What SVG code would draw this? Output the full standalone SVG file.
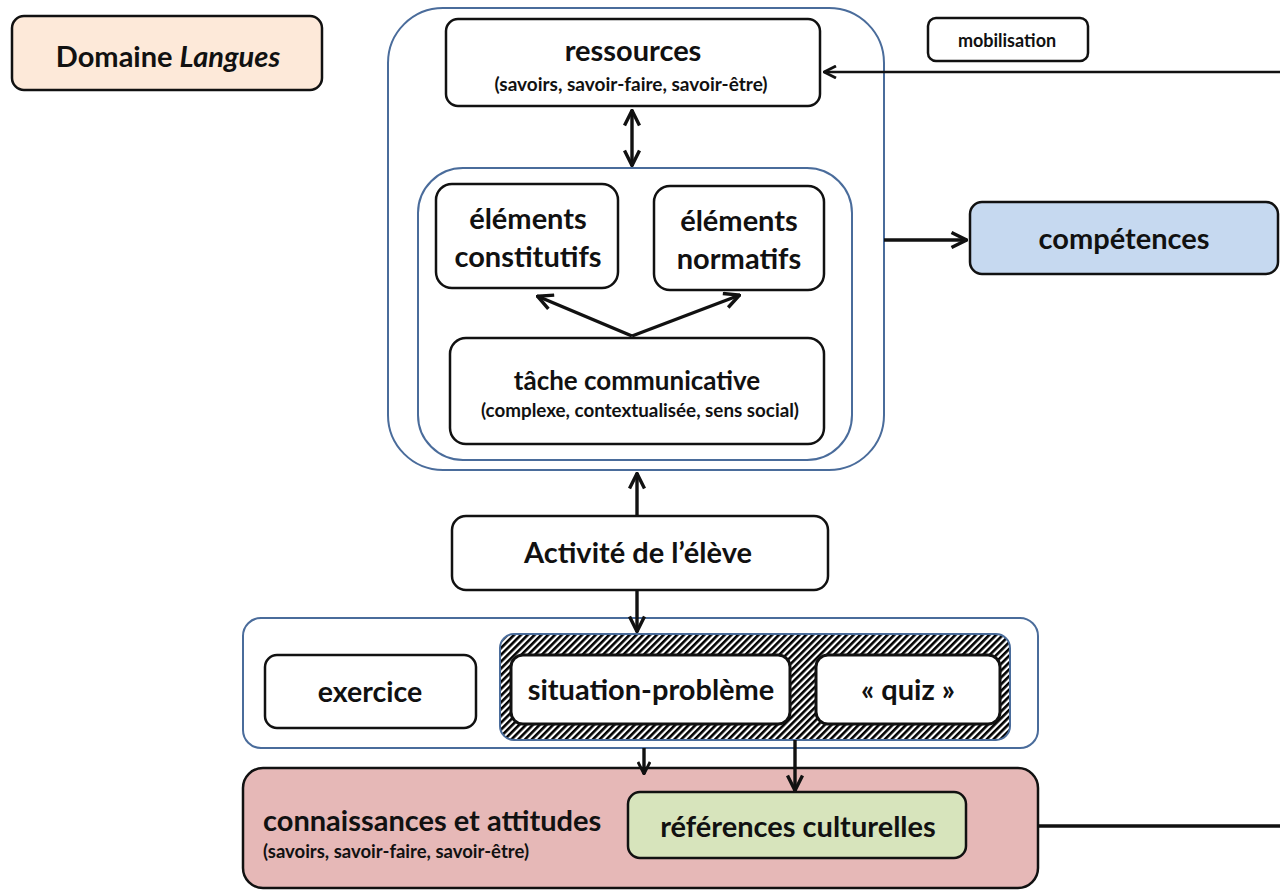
<svg xmlns="http://www.w3.org/2000/svg" width="1280" height="891" viewBox="0 0 1280 891">
<defs>
<style>
.t{font-family:Lato,"Open Sans","Liberation Sans",sans-serif;font-weight:700;fill:#111;text-anchor:middle}
.box{fill:#fff;stroke:#111;stroke-width:2.5}
.blue{fill:none;stroke:#4a6c9b;stroke-width:2}
.ln{stroke:#111;stroke-width:3.4;fill:none}
.thin{stroke:#111;stroke-width:2.4;fill:none}
</style>
<marker id="ah" viewBox="0 0 14 14" refX="13" refY="7" markerWidth="14" markerHeight="14" markerUnits="userSpaceOnUse" orient="auto-start-reverse">
<path d="M1,1 L13,7 L1,13" fill="none" stroke="#111" stroke-width="2.8"/>
</marker>
<marker id="ah2" viewBox="0 0 18 18" refX="17" refY="9" markerWidth="18" markerHeight="18" markerUnits="userSpaceOnUse" orient="auto-start-reverse">
<path d="M1.5,1.5 L16.5,9 L1.5,16.5" fill="none" stroke="#111" stroke-width="3.4"/>
</marker>
<pattern id="hatch" width="4.8" height="4.8" patternUnits="userSpaceOnUse" patternTransform="rotate(45)">
<rect width="4.8" height="4.8" fill="#fff"/>
<rect width="2.6" height="4.8" fill="#000"/>
</pattern>
</defs>
<rect width="1280" height="891" fill="#fff"/>

<g id="domaine">
<rect x="12" y="16" width="310" height="74" rx="12" fill="#fde9d9" stroke="#111" stroke-width="2.5"/>
<text class="t" x="168" y="67" font-size="29">Domaine <tspan font-style="italic">Langues</tspan></text>
</g>

<g id="outer-top">
<rect class="blue" x="388" y="8" width="496" height="462" rx="55"/>
</g>
<g id="inner-top">
<rect class="blue" x="418" y="168" width="434" height="292" rx="45"/>
</g>

<g id="ressources">
<rect class="box" x="446" y="19" width="374" height="87" rx="12"/>
<text class="t" x="633" y="61" font-size="29">ressources</text>
<text class="t" x="631" y="91" font-size="19">(savoirs, savoir-faire, savoir-être)</text>
</g>

<g id="constitutifs">
<rect class="box" x="436" y="184" width="182" height="104" rx="16"/>
<text class="t" x="528" y="229" font-size="29">éléments</text>
<text class="t" x="528" y="267" font-size="29">constitutifs</text>
</g>

<g id="normatifs">
<rect class="box" x="654" y="186" width="170" height="104" rx="16"/>
<text class="t" x="739" y="231" font-size="29">éléments</text>
<text class="t" x="739" y="269" font-size="29">normatifs</text>
</g>

<g id="tache">
<rect class="box" x="450" y="338" width="374" height="106" rx="16"/>
<text class="t" x="637" y="390" font-size="26">tâche communicative</text>
<text class="t" x="640" y="417" font-size="18.8">(complexe, contextualisée, sens social)</text>
</g>

<g id="competences">
<rect x="970" y="202" width="308" height="72" rx="12" fill="#c6d9f0" stroke="#111" stroke-width="2.5"/>
<text class="t" x="1124" y="249" font-size="29">compétences</text>
</g>

<g id="mobilisation">
<rect class="box" x="928" y="18" width="160" height="43" rx="8"/>
<text class="t" x="1007" y="47" font-size="18">mobilisation</text>
</g>

<g id="activite">
<rect class="box" x="452" y="516" width="376" height="74" rx="14"/>
<text class="t" x="638" y="563" font-size="29">Activité de l’élève</text>
</g>

<g id="outer-bottom">
<rect class="blue" x="243" y="618" width="795" height="130" rx="18"/>
</g>

<g id="exercice">
<rect class="box" x="265" y="655" width="211" height="73" rx="12"/>
<text class="t" x="370" y="702" font-size="28.5">exercice</text>
</g>

<g id="hatched">
<rect x="500" y="634" width="510" height="106" rx="14" fill="url(#hatch)" stroke="#4a6c9b" stroke-width="2"/>
</g>

<g id="situation">
<rect x="511" y="655" width="279" height="69" rx="12" fill="#fff" stroke="#111" stroke-width="3"/>
<text class="t" x="651" y="700" font-size="29">situation-problème</text>
</g>

<g id="quiz">
<rect x="816" y="655" width="184" height="69" rx="12" fill="#fff" stroke="#111" stroke-width="3"/>
<text class="t" x="908" y="700" font-size="29">« quiz »</text>
</g>

<g id="connaissances">
<rect x="243" y="768" width="795" height="120" rx="20" fill="#e6b8b7" stroke="#111" stroke-width="2.5"/>
<text class="t" x="263" y="831" font-size="29" style="text-anchor:start">connaissances et attitudes</text>
<text class="t" x="263" y="858" font-size="18.5" style="text-anchor:start">(savoirs, savoir-faire, savoir-être)</text>
</g>

<g id="references">
<rect x="628" y="792" width="338" height="66" rx="12" fill="#d7e4bc" stroke="#111" stroke-width="2.5"/>
<text class="t" x="798" y="837" font-size="29">références culturelles</text>
</g>

<g id="connectors">
<line class="ln" x1="632" y1="110" x2="632" y2="166" marker-start="url(#ah2)" marker-end="url(#ah2)"/>
<line class="ln" x1="632" y1="336" x2="537" y2="296" marker-end="url(#ah2)"/>
<line class="ln" x1="632" y1="336" x2="740" y2="295" marker-end="url(#ah2)"/>
<line class="ln" x1="884" y1="240" x2="967" y2="240" marker-end="url(#ah2)"/>
<line class="thin" x1="1280" y1="72" x2="824" y2="72" marker-end="url(#ah)"/>
<line class="ln" x1="637" y1="516" x2="637" y2="473" marker-end="url(#ah2)"/>
<line class="ln" x1="637" y1="590" x2="637" y2="632" marker-end="url(#ah2)"/>
<line class="ln" x1="644" y1="748" x2="644" y2="774" marker-end="url(#ah)"/>
<line class="ln" x1="795" y1="740" x2="795" y2="791" marker-end="url(#ah2)"/>
<line class="ln" x1="1038" y1="826" x2="1280" y2="826"/>
</g>
</svg>
